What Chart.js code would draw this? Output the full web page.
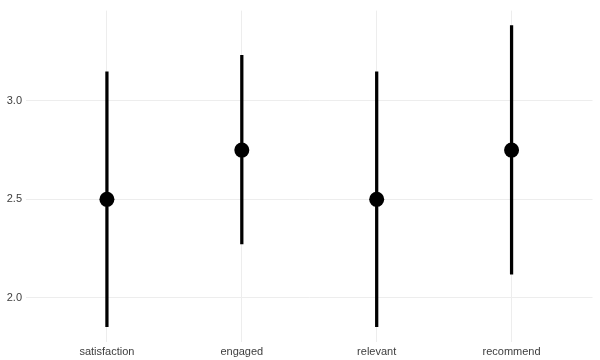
<!DOCTYPE html>
<html>
<head>
<meta charset="utf-8">
<script src="https://cdn.jsdelivr.net/npm/chart.js@4"></script>
<style>
  html, body { margin: 0; padding: 0; background: #fff; }
  #wrap { width: 600px; height: 360px; }
</style>
</head>
<body>
<div id="wrap"><canvas id="myChart" width="600" height="360"></canvas></div>
<script>
const categories = ["satisfaction", "engaged", "relevant", "recommend"];
const means = [2.5, 2.75, 2.5, 2.75];
const lower = [1.853, 2.273, 1.853, 2.12];
const upper = [3.147, 3.231, 3.147, 3.382];
const yTicks = [2.0, 2.5, 3.0];

const gridColor = "#ededed";
const textColor = "#3d3d3d";

const rangeData = categories.map(function (c, i) {
  return { x: i + 1, y: [lower[i], upper[i]] };
});
const pointData = categories.map(function (c, i) {
  return { x: i + 1, y: means[i] };
});

const config = {
  type: "bar",
  data: {
    datasets: [
      {
        type: "scatter",
        data: pointData,
        pointRadius: 7.5,
        pointHoverRadius: 7.5,
        backgroundColor: "#000",
        borderWidth: 0,
        order: 0,
      },
      {
        type: "bar",
        data: rangeData,
        backgroundColor: "#000",
        barThickness: 2.6,
        borderSkipped: false,
        order: 1,
      },
    ],
  },
  options: {
    responsive: false,
    animation: false,
    layout: { padding: { top: 5, right: 7, left: 0, bottom: 0 } },
    plugins: { legend: { display: false }, tooltip: { enabled: false } },
    scales: {
      x: {
        type: "linear",
        min: 0.4,
        max: 4.6,
        offset: false,
        border: { display: false },
        grid: { color: gridColor, lineWidth: 1, drawTicks: false, tickLength: 0, offset: false },
        afterBuildTicks: function (scale) {
          scale.ticks = categories.map(function (c, i) { return { value: i + 1 }; });
        },
        afterFit: function (scale) { scale.height = 18; },
        ticks: {
          padding: 3,
          color: textColor,
          font: { family: "Liberation Sans", size: 11 },
          maxRotation: 0,
          callback: function (v) { return categories[v - 1]; },
        },
      },
      y: {
        min: 1.7755,
        max: 3.4585,
        border: { display: false },
        grid: { color: gridColor, lineWidth: 1, drawTicks: false, tickLength: 0 },
        afterBuildTicks: function (scale) {
          scale.ticks = yTicks.map(function (v) { return { value: v }; });
        },
        afterFit: function (scale) { scale.width = 26; },
        ticks: {
          padding: 4,
          color: textColor,
          font: { family: "Liberation Sans", size: 11 },
          callback: function (v) { return Number(v).toFixed(1); },
        },
      },
    },
  },
};

new Chart(document.getElementById("myChart"), config);
</script>
</body>
</html>
